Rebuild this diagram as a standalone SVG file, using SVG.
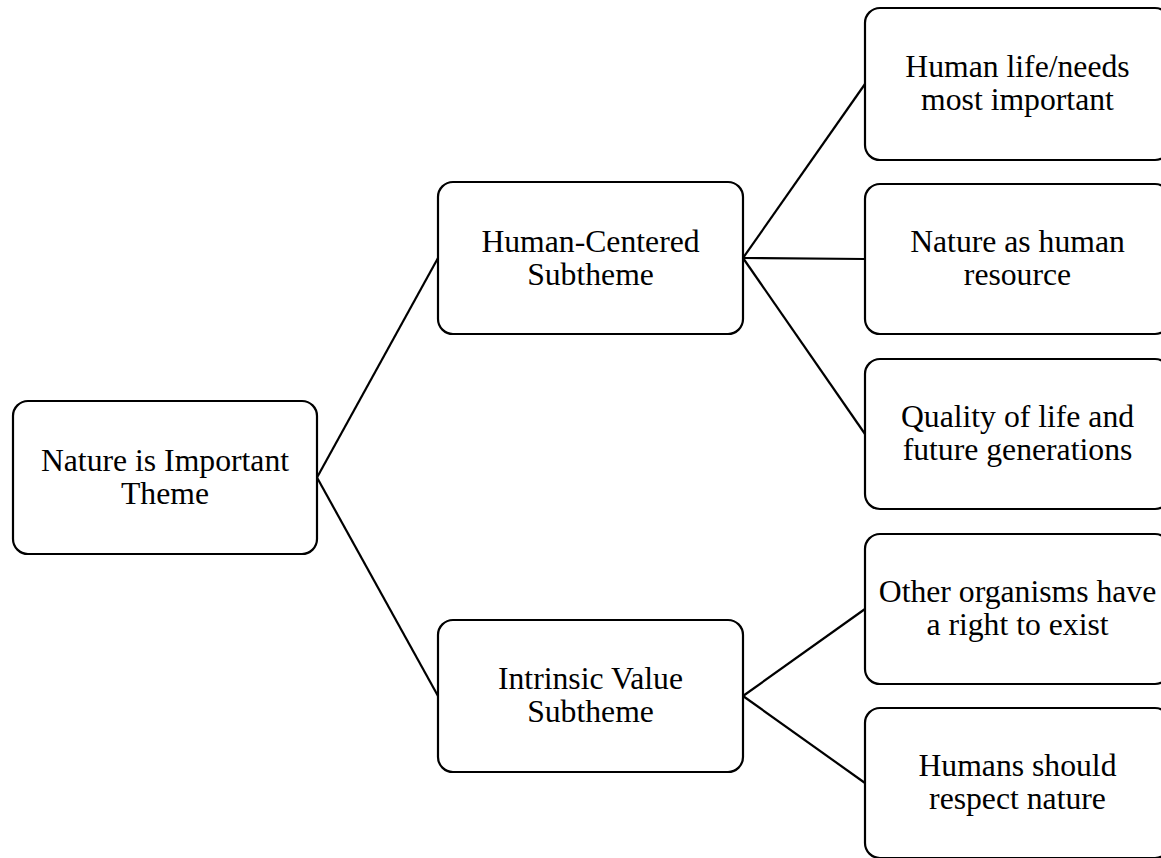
<svg xmlns="http://www.w3.org/2000/svg" width="1161" height="858" viewBox="0 0 1161 858">
  <style>
    .box { fill: #ffffff; stroke: #000000; stroke-width: 2.2; }
    .link { stroke: #000000; stroke-width: 2.2; fill: none; }
    .label { font-family: "Liberation Serif", "Times New Roman", serif; font-size: 31.7px; fill: #000000; text-anchor: middle; }
  </style>
  <rect width="1161" height="858" fill="#ffffff"/>

  <!-- connectors -->
  <g id="connectors">
    <line class="link" x1="317" y1="477.5" x2="438" y2="258"/>
    <line class="link" x1="317" y1="477.5" x2="438" y2="696"/>
    <line class="link" x1="743" y1="258" x2="865" y2="84"/>
    <line class="link" x1="743" y1="258" x2="865" y2="259"/>
    <line class="link" x1="743" y1="258" x2="865" y2="434"/>
    <line class="link" x1="743" y1="696" x2="865" y2="609"/>
    <line class="link" x1="743" y1="696" x2="865" y2="783"/>
  </g>

  <!-- root theme -->
  <g id="theme">
    <rect class="box" x="13" y="401" width="304" height="153" rx="15" ry="15"/>
    <text class="label" x="165" y="471">Nature is Important</text>
    <text class="label" x="165" y="504">Theme</text>
  </g>

  <!-- subthemes -->
  <g id="human-centered">
    <rect class="box" x="438" y="182" width="305" height="152" rx="15" ry="15"/>
    <text class="label" x="590.5" y="252">Human-Centered</text>
    <text class="label" x="590.5" y="285">Subtheme</text>
  </g>
  <g id="intrinsic-value">
    <rect class="box" x="438" y="620" width="305" height="152" rx="15" ry="15"/>
    <text class="label" x="590.5" y="689">Intrinsic Value</text>
    <text class="label" x="590.5" y="722">Subtheme</text>
  </g>

  <!-- leaf topics -->
  <g id="human-life">
    <rect class="box" x="865" y="8" width="305" height="152" rx="15" ry="15"/>
    <text class="label" x="1017.5" y="77">Human life/needs</text>
    <text class="label" x="1017.5" y="110">most important</text>
  </g>
  <g id="human-resource">
    <rect class="box" x="865" y="184" width="305" height="150" rx="15" ry="15"/>
    <text class="label" x="1017.5" y="252">Nature as human</text>
    <text class="label" x="1017.5" y="285">resource</text>
  </g>
  <g id="quality-of-life">
    <rect class="box" x="865" y="359" width="305" height="150" rx="15" ry="15"/>
    <text class="label" x="1017.5" y="427">Quality of life and</text>
    <text class="label" x="1017.5" y="460">future generations</text>
  </g>
  <g id="right-to-exist">
    <rect class="box" x="865" y="534" width="305" height="150" rx="15" ry="15"/>
    <text class="label" x="1017.5" y="602">Other organisms have</text>
    <text class="label" x="1017.5" y="635">a right to exist</text>
  </g>
  <g id="respect-nature">
    <rect class="box" x="865" y="708" width="305" height="150" rx="15" ry="15"/>
    <text class="label" x="1017.5" y="776">Humans should</text>
    <text class="label" x="1017.5" y="809">respect nature</text>
  </g>
</svg>
